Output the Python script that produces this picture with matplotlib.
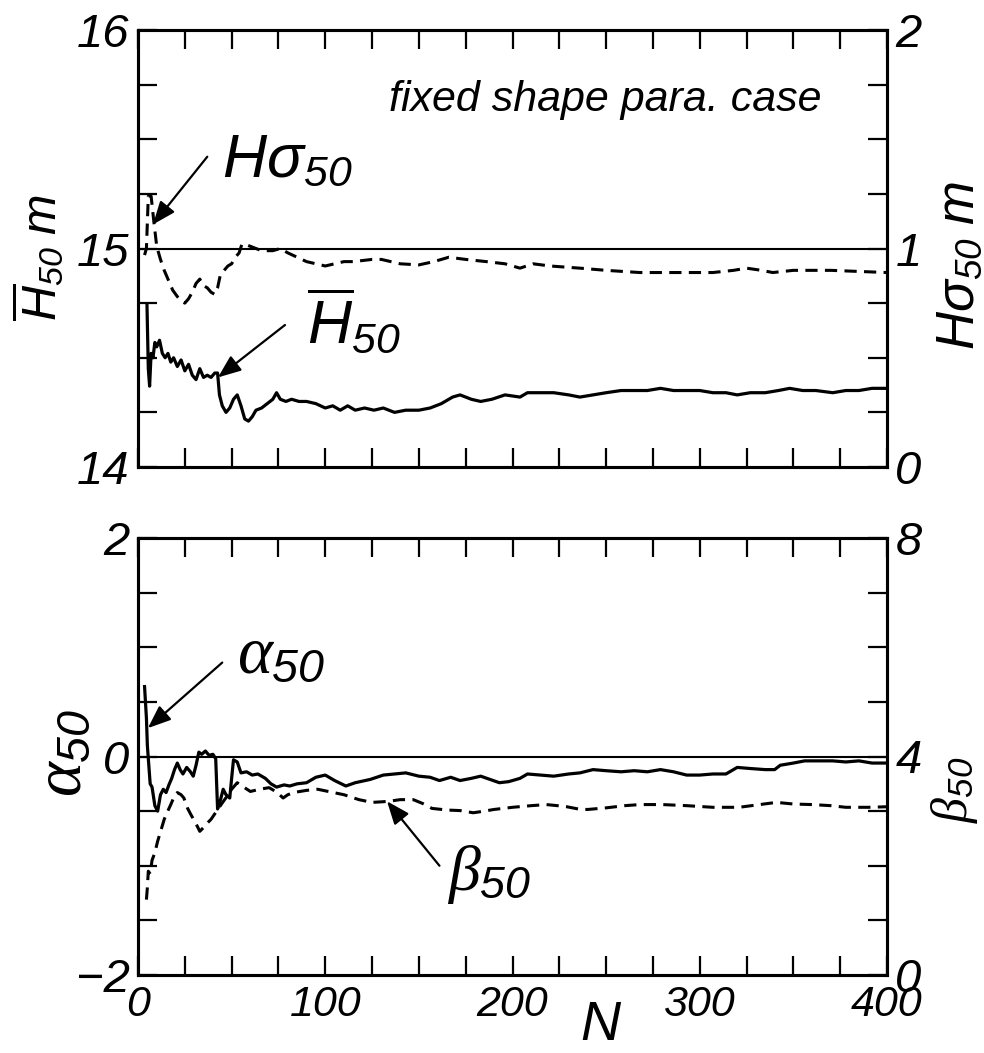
import matplotlib
matplotlib.use("Agg")
import matplotlib.pyplot as plt
from matplotlib.ticker import MultipleLocator

plt.rcParams['font.family'] = ['Liberation Sans', 'DejaVu Sans']
plt.rcParams['font.style'] = 'italic'
plt.rcParams['mathtext.fontset'] = 'custom'
plt.rcParams['mathtext.rm'] = 'Liberation Sans:italic'
plt.rcParams['mathtext.it'] = 'Liberation Serif:italic'

# top panel: mean H50 (left axis, m)
hbar_n = [4.8, 5.5, 6.2, 7, 8, 9, 10, 11.5, 13, 14.5, 16, 17.5, 19, 21, 23, 25, 27, 29, 31, 33,
          35, 37, 39, 41, 42.5, 43.5, 45, 47, 49, 51, 53, 55, 57, 59, 61, 63, 66, 69, 72, 74,
          76, 79, 82, 86, 90, 95, 100, 104, 108, 112, 116, 121, 126, 131, 137, 143, 150, 156,
          162, 168, 172, 178, 183, 189, 196, 204, 208, 215, 222, 230, 236, 243, 250, 258, 265,
          272, 279, 286, 293, 300, 307, 314, 320, 327, 335, 342, 348, 355, 362, 371, 378, 385,
          392, 400]
hbar = [14.74, 14.45, 14.37, 14.52, 14.50, 14.57, 14.55, 14.58, 14.52, 14.50, 14.52, 14.48,
        14.50, 14.46, 14.49, 14.44, 14.47, 14.42, 14.40, 14.45, 14.41, 14.42, 14.41, 14.43,
        14.43, 14.33, 14.28, 14.25, 14.27, 14.31, 14.33, 14.28, 14.22, 14.21, 14.23, 14.26,
        14.27, 14.29, 14.31, 14.34, 14.31, 14.30, 14.31, 14.30, 14.30, 14.29, 14.27, 14.28,
        14.26, 14.28, 14.26, 14.27, 14.26, 14.27, 14.25, 14.26, 14.26, 14.27, 14.29, 14.32,
        14.33, 14.31, 14.30, 14.31, 14.33, 14.32, 14.34, 14.34, 14.34, 14.33, 14.32, 14.33,
        14.34, 14.35, 14.35, 14.35, 14.36, 14.35, 14.35, 14.35, 14.34, 14.34, 14.33, 14.34,
        14.34, 14.35, 14.36, 14.35, 14.35, 14.34, 14.35, 14.35, 14.36, 14.36]

# top panel: H sigma 50 (right axis, m)
hsig_n = [3.5, 4.5, 5.5, 7, 8.5, 10, 12, 14, 16, 18.5, 21, 23, 25, 27, 29, 31, 33, 35, 37, 39,
          41, 42.5, 44, 46, 48, 50, 52, 54, 55.5, 57, 60, 63, 66, 69, 72, 76, 80, 85, 90, 95,
          100, 105, 110, 115, 120, 125, 130, 140, 150, 158, 166, 175, 186, 196, 204, 211, 220,
          236, 250, 268, 290, 307, 318, 325, 333, 339, 350, 370, 385, 400]
hsig = [0.97, 1.00, 1.24, 1.24, 1.12, 1.01, 0.95, 0.90, 0.86, 0.81, 0.78, 0.76, 0.75, 0.77,
        0.80, 0.84, 0.86, 0.83, 0.82, 0.80, 0.79, 0.82, 0.88, 0.90, 0.92, 0.93, 0.96, 0.98,
        1.02, 1.02, 1.01, 1.00, 0.99, 0.99, 0.99, 1.00, 0.98, 0.96, 0.94, 0.93, 0.92, 0.93,
        0.94, 0.94, 0.945, 0.95, 0.95, 0.93, 0.925, 0.94, 0.96, 0.95, 0.94, 0.93, 0.91, 0.93,
        0.92, 0.91, 0.90, 0.89, 0.89, 0.89, 0.90, 0.91, 0.90, 0.89, 0.90, 0.90, 0.895, 0.89]

# bottom panel: alpha 50 (left axis)
alpha_n = [3.5, 4.5, 5, 6.5, 7.5, 9, 10.5, 12, 13.5, 15, 16.5, 18, 19.5, 21, 22.5, 24, 26, 28,
           29.5, 31, 32.5, 34, 36, 38, 40, 41.5, 42.5, 44, 45.5, 47, 49, 50, 51, 53, 55, 58,
           61, 64, 68, 71, 74, 78, 81, 85, 90, 95, 100, 105, 111, 116, 124, 131, 137, 143,
           150, 156, 161, 167, 172, 178, 183, 188, 193, 198, 204, 208, 215, 222, 230, 236,
           243, 250, 258, 265, 272, 279, 286, 293, 300, 307, 314, 320, 327, 335, 340, 343,
           350, 356, 363, 371, 378, 385, 392, 400]
alpha = [0.64, 0.35, 0.10, -0.25, -0.28, -0.45, -0.50, -0.35, -0.30, -0.33, -0.26, -0.20,
         -0.12, -0.06, -0.12, -0.16, -0.10, -0.14, -0.18, -0.08, 0.04, 0.02, 0.05, 0.01, 0.02,
         -0.02, -0.48, -0.40, -0.30, -0.35, -0.38, -0.20, -0.03, -0.05, -0.15, -0.14, -0.17,
         -0.16, -0.20, -0.25, -0.28, -0.26, -0.27, -0.25, -0.24, -0.19, -0.17, -0.22, -0.27,
         -0.24, -0.21, -0.17, -0.16, -0.15, -0.18, -0.19, -0.22, -0.19, -0.22, -0.20, -0.18,
         -0.21, -0.24, -0.23, -0.20, -0.16, -0.17, -0.18, -0.16, -0.15, -0.12, -0.13, -0.14,
         -0.13, -0.14, -0.12, -0.14, -0.17, -0.17, -0.16, -0.16, -0.10, -0.11, -0.12, -0.12,
         -0.08, -0.06, -0.04, -0.04, -0.04, -0.05, -0.04, -0.06, -0.06]

# bottom panel: beta 50 (right axis)
beta_n = [4.5, 5, 5.5, 6.5, 7.5, 9, 10.5, 12, 14, 15.5, 17.5, 19.5, 21, 23, 24.5, 26.5, 28.5,
          30.5, 32, 33, 35, 37, 39, 41, 43, 45, 47.5, 50, 53, 56, 60, 65, 70, 74, 77.5, 80,
          83, 90, 96, 103, 110, 118, 125, 130, 134, 140, 147, 152, 157, 165, 172, 179, 185,
          190, 200, 210, 218, 224, 229, 235, 240, 250, 260, 268, 280, 293, 307, 321, 332, 341,
          350, 360, 370, 378, 390, 400]
beta = [1.38, 1.60, 1.90, 1.85, 2.10, 2.24, 2.45, 2.62, 2.85, 2.97, 3.12, 3.28, 3.34, 3.30,
        3.24, 3.05, 2.92, 2.80, 2.70, 2.63, 2.70, 2.78, 2.85, 2.95, 3.05, 3.15, 3.27, 3.40,
        3.52, 3.45, 3.36, 3.40, 3.43, 3.35, 3.24, 3.30, 3.34, 3.38, 3.40, 3.35, 3.30, 3.21,
        3.16, 3.17, 3.18, 3.21, 3.21, 3.14, 3.05, 3.02, 3.01, 2.97, 3.00, 3.03, 3.07, 3.10,
        3.12, 3.10, 3.08, 3.04, 3.03, 3.06, 3.10, 3.12, 3.12, 3.10, 3.07, 3.07, 3.12, 3.16,
        3.13, 3.12, 3.10, 3.07, 3.07, 3.08]

W, H = 984, 1053
fig = plt.figure(figsize=(W / 100, H / 100), dpi=100)


def box(x0, y0, x1, y1):
    return [x0 / W, 1 - y1 / H, (x1 - x0) / W, (y1 - y0) / H]


dash = (0, (4, 2.4))
arrow = dict(arrowstyle='-|>,head_length=1.0,head_width=0.4', color='k', lw=1.6,
             mutation_scale=14, shrinkA=0, shrinkB=0)


def style(ax, axr, ylim, ymaj, ymin, rlim, rmaj, rmin):
    ax.set_xlim(0, 400)
    ax.set_ylim(*ylim)
    axr.set_ylim(*rlim)
    ax.xaxis.set_major_locator(MultipleLocator(100))
    ax.xaxis.set_minor_locator(MultipleLocator(25))
    ax.yaxis.set_major_locator(MultipleLocator(ymaj))
    ax.yaxis.set_minor_locator(MultipleLocator(ymin))
    axr.yaxis.set_major_locator(MultipleLocator(rmaj))
    axr.yaxis.set_minor_locator(MultipleLocator(rmin))
    for a in (ax, axr):
        a.tick_params(which='both', direction='in', length=14, width=1.6, labelsize=34, pad=6)
        for s in a.spines.values():
            s.set_linewidth(2.2)
    ax.tick_params(axis='x', which='both', top=True, bottom=True, labelsize=31, pad=7)


# ---- top panel
ax1 = fig.add_axes(box(138, 30, 887, 467))
ax1r = ax1.twinx()
style(ax1, ax1r, (14, 16), 1, 0.25, (0, 2), 1, 0.25)
ax1.tick_params(labelbottom=False)
ax1.axhline(15, color='k', lw=1.5)
ax1.plot(hbar_n, hbar, color='k', lw=2.3)
ax1r.plot(hsig_n, hsig, color='k', lw=2.2, ls=dash)

ax1.text(365, 15.68, 'fixed shape para. case', fontsize=31, ha='right', va='center')
ax1r.annotate('', xy=(8, 1.11), xytext=(37, 1.42), arrowprops=arrow)
ax1r.text(45, 1.40, r'$\mathrm{H\sigma_{50}}$', fontsize=44, va='center')
ax1.annotate('', xy=(42.7, 14.41), xytext=(78.5, 14.65), arrowprops=arrow)
ax1.text(90, 14.66, r'$\mathrm{\overline{H}_{50}}$', fontsize=44, va='center')

# ---- bottom panel
ax2 = fig.add_axes(box(138, 538, 887, 975))
ax2r = ax2.twinx()
style(ax2, ax2r, (-2, 2), 2, 0.5, (0, 8), 4, 1)
ax2.axhline(0, color='k', lw=1.5)
ax2.plot(alpha_n, alpha, color='k', lw=2.3)
ax2r.plot(beta_n, beta, color='k', lw=2.2, ls=dash)

ax2.annotate('', xy=(5.3, 0.26), xytext=(45, 0.86), arrowprops=arrow)
ax2.text(53, 0.92, r'$\alpha_{\mathrm{50}}$', fontsize=48, va='center')
ax2r.annotate('', xy=(133, 3.18), xytext=(161, 2.0), arrowprops=arrow)
ax2r.text(165, 1.84, r'$\beta_{\mathrm{50}}$', fontsize=46, va='center')

# axis titles
fig.text(38 / W, 1 - 258 / H, r'$\mathrm{\overline{H}_{50}\ m}$', fontsize=35,
         rotation=90, ha='center', va='center')
fig.text(960 / W, 1 - 265 / H, r'$\mathrm{H\sigma_{50}\ m}$', fontsize=38,
         rotation=90, ha='center', va='center')
fig.text(64 / W, 1 - 753 / H, r'$\alpha_{\mathrm{50}}$', fontsize=48,
         rotation=90, ha='center', va='center')
fig.text(955 / W, 1 - 790 / H, r'$\beta_{\mathrm{50}}$', fontsize=36,
         rotation=90, ha='center', va='center')
fig.text(600 / W, 1 - 1026 / H, 'N', fontsize=40, ha='center', va='center')

fig.savefig('out.png', dpi=100)
